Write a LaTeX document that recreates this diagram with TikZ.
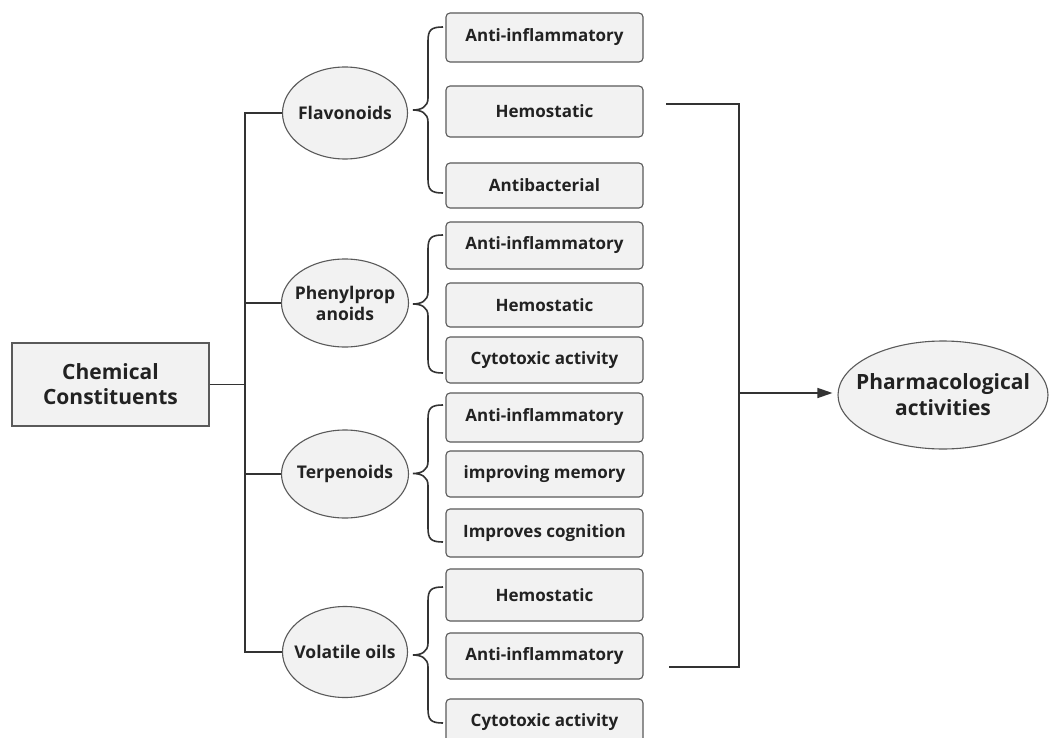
\documentclass[tikz,border=0pt]{standalone}
\usepackage{fontspec}
\setmainfont{Open Sans}
\usetikzlibrary{arrows.meta,shapes.geometric}
\definecolor{fillg}{HTML}{F2F2F2}
\definecolor{edgeg}{HTML}{5A5A5A}
\definecolor{lineg}{HTML}{333333}
\definecolor{txt}{HTML}{222222}
% curly brace opening to the right, tip at x=413, ends at x=443
\newcommand\mycurly[2]{%
  \pgfmathsetmacro\cbm{(#1+#2)/2}%
  \draw[bracestyle] (443,#1) .. controls (431,#1) and (428,#1+3) .. (428,#1+14)
    -- (428,\cbm-12) .. controls (428,\cbm-3) and (421,\cbm) .. (413,\cbm)
    .. controls (421,\cbm) and (428,\cbm+3) .. (428,\cbm+12)
    -- (428,#2-14) .. controls (428,#2-3) and (431,#2) .. (443,#2);}
\begin{document}
\begin{tikzpicture}[x=1pt,y=-1pt,
  actbox/.style={draw=edgeg,fill=fillg,line width=1.1pt,rounded corners=4pt,minimum width=197pt,inner sep=0pt,text=txt,font=\fontsize{17}{19}\selectfont\bfseries},
  classell/.style={ellipse,draw=edgeg,fill=fillg,line width=1.1pt,inner sep=0pt},
  elltext/.style={text=txt,align=center,font=\fontsize{17.5}{21}\selectfont\bfseries},
  conn/.style={draw=lineg,line width=1.4pt},
  bracestyle/.style={draw=lineg,line width=1.6pt}
]
\useasboundingbox (0,0) rectangle (1051,738);
\fill[white] (0,0) rectangle (1051,738);

% root
\node[draw=edgeg,fill=fillg,line width=1.1pt,minimum width=197pt,minimum height=83pt,inner sep=0pt,text=txt,align=center,
  font=\fontsize{21}{25}\selectfont\bfseries] (chem) at (110.5,384.5) {Chemical\\Constituents};

% classes
\node[classell,minimum width=125pt,minimum height=92pt,label={[elltext]center:Flavonoids}] (flav) at (345,113) {};
\node[classell,minimum width=127pt,minimum height=88pt,label={[elltext]center:{Phenylprop\\anoids}}] (phen) at (345,303) {};
\node[classell,minimum width=127pt,minimum height=88pt,label={[elltext]center:Terpenoids}] (terp) at (345,474) {};
\node[classell,minimum width=125pt,minimum height=91pt,label={[elltext]center:Volatile oils}] (vol) at (345,652) {};

% activity boxes
\node[actbox,minimum height=49pt] (f1) at (544.5,37.5) {Anti-inflammatory};
\node[actbox,minimum height=51pt] (f2) at (544.5,111.5) {Hemostatic};
\node[actbox,minimum height=45pt] (f3) at (544.5,185.5) {Antibacterial};
\node[actbox,minimum height=47pt] (p1) at (544.5,245.5) {Anti-inflammatory};
\node[actbox,minimum height=44pt] (p2) at (544.5,305) {Hemostatic};
\node[actbox,minimum height=46pt] (p3) at (544.5,360) {Cytotoxic activity};
\node[actbox,minimum height=49pt] (t1) at (544.5,417.5) {Anti-inflammatory};
\node[actbox,minimum height=46pt] (t2) at (544.5,474) {improving memory};
\node[actbox,minimum height=48pt] (t3) at (544.5,533) {Improves cognition};
\node[actbox,minimum height=52pt] (v1) at (544.5,595) {Hemostatic};
\node[actbox,minimum height=46pt] (v2) at (544.5,656) {Anti-inflammatory};
\node[actbox,minimum height=46pt] (v3) at (544.5,722) {Cytotoxic activity};

% target
\node[classell,minimum width=210pt,minimum height=108pt,
  label={[text=txt,align=center,font=\fontsize{21}{26}\selectfont\bfseries]center:{Pharmacological\\activities}}] (pharm) at (943,395) {};

% trunk
\coordinate (trunkTop) at (245,113);
\coordinate (trunkBot) at (245,652);
\draw[conn] (chem.east) -- (chem.east -| trunkTop);
\draw[conn] (flav.west) -- (trunkTop) -- (trunkBot) -- (vol.west);
\draw[conn] (phen.west) -- (phen.west -| trunkTop);
\draw[conn] (terp.west) -- (terp.west -| trunkTop);

% braces
\mycurly{27}{193}
\mycurly{235}{373}
\mycurly{405}{542}
\mycurly{587}{723}

% right collector
\coordinate (rTopL) at (666,104);
\coordinate (rTopR) at (739,104);
\coordinate (rBotR) at (739,667);
\coordinate (rBotL) at (669,667);
\coordinate (rMid) at (739,393);
\draw[conn] (rTopL) -- (rTopR) -- (rBotR) -- (rBotL);
\draw[conn,-{Triangle[length=15pt,width=10pt]},shorten >=5pt] (rMid) -- (rMid -| pharm.west);
\end{tikzpicture}
\end{document}
